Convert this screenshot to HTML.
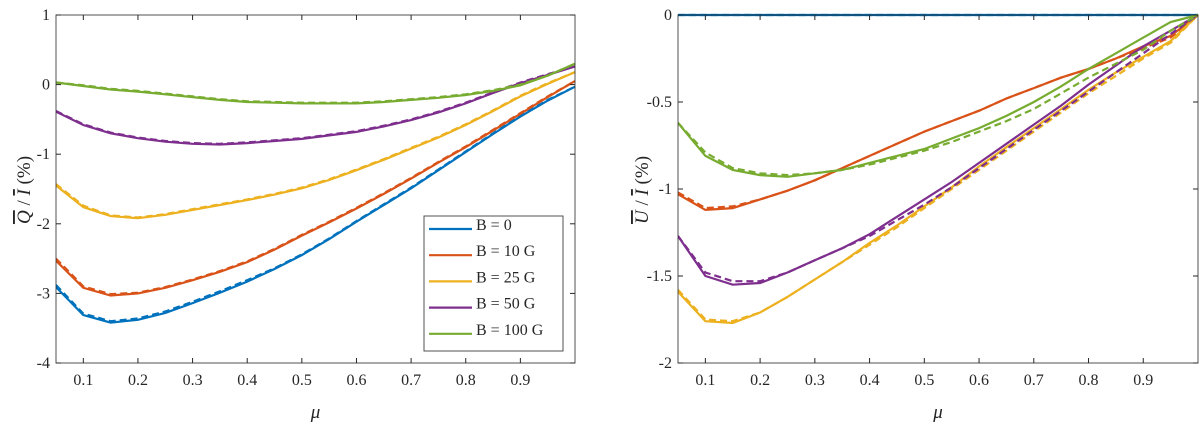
<!DOCTYPE html>
<html><head><meta charset="utf-8"><style>
body{margin:0;background:#fff}
svg text{font-family:"Liberation Serif",serif;fill:#262626}
</style></head><body>
<svg id="s" width="1200" height="425" viewBox="0 0 1200 425" xmlns="http://www.w3.org/2000/svg"></svg>
<script>
const mu=[0.05,0.1,0.15,0.2,0.25,0.3,0.35,0.4,0.45,0.5,0.55,0.6,0.65,0.7,0.75,0.8,0.85,0.9,0.95,1.0];
const seriesNames=["B = 0","B = 10 G","B = 25 G","B = 50 G","B = 100 G"];
const colors=["#0072BD","#D95319","#EDB120","#7E2F8E","#77AC30"];
const qB0=[-2.91,-3.31,-3.42,-3.38,-3.28,-3.14,-2.99,-2.83,-2.65,-2.45,-2.22,-1.97,-1.73,-1.49,-1.23,-0.97,-0.71,-0.46,-0.23,-0.03];
const qB10=[-2.53,-2.92,-3.03,-3.0,-2.92,-2.81,-2.69,-2.55,-2.37,-2.17,-1.98,-1.78,-1.57,-1.35,-1.12,-0.9,-0.66,-0.42,-0.18,0.05];
const qB25=[-1.45,-1.76,-1.89,-1.92,-1.87,-1.80,-1.73,-1.66,-1.58,-1.49,-1.37,-1.23,-1.08,-0.92,-0.76,-0.58,-0.38,-0.17,0.01,0.18];
const qB50=[-0.39,-0.58,-0.70,-0.77,-0.82,-0.85,-0.86,-0.84,-0.81,-0.78,-0.73,-0.68,-0.60,-0.51,-0.40,-0.27,-0.12,0.02,0.14,0.26];
const qB100=[0.03,-0.02,-0.07,-0.10,-0.14,-0.18,-0.22,-0.25,-0.26,-0.27,-0.27,-0.27,-0.25,-0.22,-0.19,-0.15,-0.09,-0.01,0.13,0.30];
const qB0d=[-2.88,-3.29,-3.40,-3.36,-3.26,-3.12,-2.97,-2.81,-2.64,-2.44,-2.21,-1.96,-1.72,-1.48,-1.22,-0.96,-0.70,-0.45,-0.22,-0.03];
const qB10d=[-2.50,-2.90,-3.01,-2.99,-2.91,-2.80,-2.68,-2.54,-2.36,-2.16,-1.97,-1.77,-1.56,-1.34,-1.11,-0.89,-0.65,-0.41,-0.17,0.05];
const qB25d=[-1.43,-1.74,-1.88,-1.91,-1.86,-1.79,-1.72,-1.65,-1.57,-1.48,-1.36,-1.22,-1.07,-0.91,-0.75,-0.57,-0.37,-0.16,0.02,0.18];
const qB50d=[-0.38,-0.57,-0.69,-0.76,-0.81,-0.84,-0.85,-0.83,-0.80,-0.77,-0.72,-0.67,-0.59,-0.50,-0.39,-0.26,-0.11,0.03,0.15,0.26];
const qB100d=[0.03,-0.01,-0.06,-0.09,-0.13,-0.17,-0.21,-0.24,-0.25,-0.26,-0.26,-0.26,-0.24,-0.21,-0.18,-0.14,-0.08,0.0,0.13,0.30];
const uB0=[0,0,0,0,0,0,0,0,0,0,0,0,0,0,0,0,0,0,0,0];
const uB10=[-1.03,-1.12,-1.11,-1.06,-1.01,-0.95,-0.88,-0.81,-0.74,-0.67,-0.61,-0.55,-0.48,-0.42,-0.36,-0.31,-0.25,-0.18,-0.12,0];
const uB25=[-1.59,-1.76,-1.77,-1.71,-1.62,-1.52,-1.42,-1.31,-1.21,-1.10,-0.99,-0.87,-0.76,-0.65,-0.54,-0.43,-0.33,-0.24,-0.15,0];
const uB50=[-1.27,-1.50,-1.55,-1.54,-1.48,-1.41,-1.34,-1.26,-1.16,-1.06,-0.96,-0.85,-0.74,-0.63,-0.52,-0.40,-0.29,-0.18,-0.09,0];
const uB100=[-0.62,-0.81,-0.89,-0.92,-0.93,-0.91,-0.89,-0.85,-0.81,-0.77,-0.71,-0.65,-0.58,-0.50,-0.41,-0.31,-0.22,-0.13,-0.04,0];
const uB0d=[0,0,0,0,0,0,0,0,0,0,0,0,0,0,0,0,0,0,0,0];
const uB10d=[-1.02,-1.11,-1.10,-1.06,-1.01,-0.95,-0.88,-0.81,-0.74,-0.67,-0.61,-0.55,-0.48,-0.42,-0.36,-0.31,-0.25,-0.19,-0.13,0];
const uB25d=[-1.58,-1.75,-1.76,-1.71,-1.62,-1.52,-1.42,-1.32,-1.22,-1.11,-1.00,-0.89,-0.78,-0.67,-0.56,-0.45,-0.35,-0.25,-0.16,0];
const uB50d=[-1.27,-1.48,-1.53,-1.53,-1.48,-1.41,-1.34,-1.27,-1.18,-1.09,-0.99,-0.88,-0.77,-0.66,-0.55,-0.44,-0.33,-0.22,-0.11,0];
const uB100d=[-0.62,-0.79,-0.88,-0.91,-0.92,-0.91,-0.89,-0.86,-0.82,-0.78,-0.73,-0.67,-0.61,-0.54,-0.45,-0.36,-0.28,-0.20,-0.09,0];
const xTicks=[0.1,0.2,0.3,0.4,0.5,0.6,0.7,0.8,0.9];
const xTickLabels=["0.1","0.2","0.3","0.4","0.5","0.6","0.7","0.8","0.9"];
const qTicks=[1,0,-1,-2,-3,-4];
const qTickLabels=["1","0","-1","-2","-3","-4"];
const uTicks=[0,-0.5,-1,-1.5,-2];
const uTickLabels=["0","-0.5","-1","-1.5","-2"];

const NS="http://www.w3.org/2000/svg";
const svg=document.getElementById('s');
function mk(tag,attrs,parent){const e=document.createElementNS(NS,tag);for(const k in attrs)e.setAttribute(k,attrs[k]);(parent||svg).appendChild(e);return e;}

function panel(cfg){
  const g=mk('g',{});
  
  
  const L=cfg.x0,R=cfg.x1,T=15,B=363;
  const sx=v=>L+(v-0.05)/(1.0-0.05)*(R-L);
  const sy=v=>T+(cfg.ymax-v)/(cfg.ymax-cfg.ymin)*(B-T);
  const clip=mk('clipPath',{id:cfg.name+'-clip'},g);
  mk('rect',{x:L,y:T-2,width:R-L+2,height:B-T+4},clip);
  const lines=mk('g',{'clip-path':'url(#'+cfg.name+'-clip)'},g);
  cfg.solid.forEach((arr,i)=>{
    const pd=cfg.dashed[i];
    const d2=pd.map((v,j)=>(j?'L':'M')+sx(mu[j]).toFixed(1)+','+sy(v).toFixed(1)).join('');
    const p2=mk('path',{d:d2,fill:'none',stroke:colors[i],'stroke-width':2.2,'stroke-dasharray':'7,4'},lines);
    
    
    const d=arr.map((v,j)=>(j?'L':'M')+sx(mu[j]).toFixed(1)+','+sy(v).toFixed(1)).join('');
    const p=mk('path',{d:d,fill:'none',stroke:colors[i],'stroke-width':2.2},lines);
    
    
  });
  const box=mk('rect',{x:L,y:T,width:R-L,height:B-T,fill:'none',stroke:'#262626','stroke-width':1,'stroke-opacity':0.8},g);
  
  
  xTicks.forEach((t,i)=>{
    const x=sx(t);
    mk('line',{x1:x,x2:x,y1:B,y2:B-5,stroke:'#262626'},g);
    mk('line',{x1:x,x2:x,y1:T,y2:T+5,stroke:'#262626'},g);
    const tx=mk('text',{x:x,y:B+22,'text-anchor':'middle','font-size':16},g);
    tx.textContent=xTickLabels[i];
    
    
  });
  cfg.yTicks.forEach((t,i)=>{
    const y=sy(t);
    mk('line',{x1:L,x2:L+5,y1:y,y2:y,stroke:'#262626'},g);
    mk('line',{x1:R,x2:R-5,y1:y,y2:y,stroke:'#262626'},g);
    const tx=mk('text',{x:L-6,y:y+5,'text-anchor':'end','font-size':16},g);
    tx.textContent=cfg.yLabels[i];
    
    
  });
  const xl=mk('text',{x:(L+R)/2,y:418,'text-anchor':'middle','font-size':19,'font-style':'italic'},g);
  xl.textContent='μ';
  
  
  const yl=mk('text',{x:0,y:0,'text-anchor':'middle','font-size':19,transform:'translate('+cfg.ylx+',190) rotate(-90)'},g);
  yl.innerHTML=cfg.ytitle;
  
  
  return g;
}
const keys=['b0','b10','b25','b50','b100'];
panel({name:'q-panel',x0:56,x1:575,ymin:-4,ymax:1,yTicks:qTicks,yLabels:qTickLabels,ylx:30,keys:keys,
  solid:[qB0,qB10,qB25,qB50,qB100],dashed:[qB0d,qB10d,qB25d,qB50d,qB100d],
  ytitle:'<tspan font-style="italic" text-decoration="overline">Q</tspan> / <tspan font-style="italic" text-decoration="overline">I</tspan> (%)'});
panel({name:'u-panel',x0:678,x1:1198,ymin:-2,ymax:0,yTicks:uTicks,yLabels:uTickLabels,ylx:648,keys:keys,
  solid:[uB0,uB10,uB25,uB50,uB100],dashed:[uB0d,uB10d,uB25d,uB50d,uB100d],
  ytitle:'<tspan font-style="italic" text-decoration="overline">U</tspan> / <tspan font-style="italic" text-decoration="overline">I</tspan> (%)'});

// legend
const lg=mk('g',{});


mk('rect',{x:424,y:216,width:139,height:135,fill:'#fff',stroke:'#262626','stroke-opacity':0.8},lg);
seriesNames.forEach((n,i)=>{
  const y=229+i*26.2;
  const e=mk('g',{},lg);
  
  
  mk('line',{x1:429,x2:472,y1:y,y2:y,stroke:colors[i],'stroke-width':2.2},e);
  const t=mk('text',{x:476,y:y+1,'font-size':16},e);
  t.textContent=n;
});
</script>
</body></html>
